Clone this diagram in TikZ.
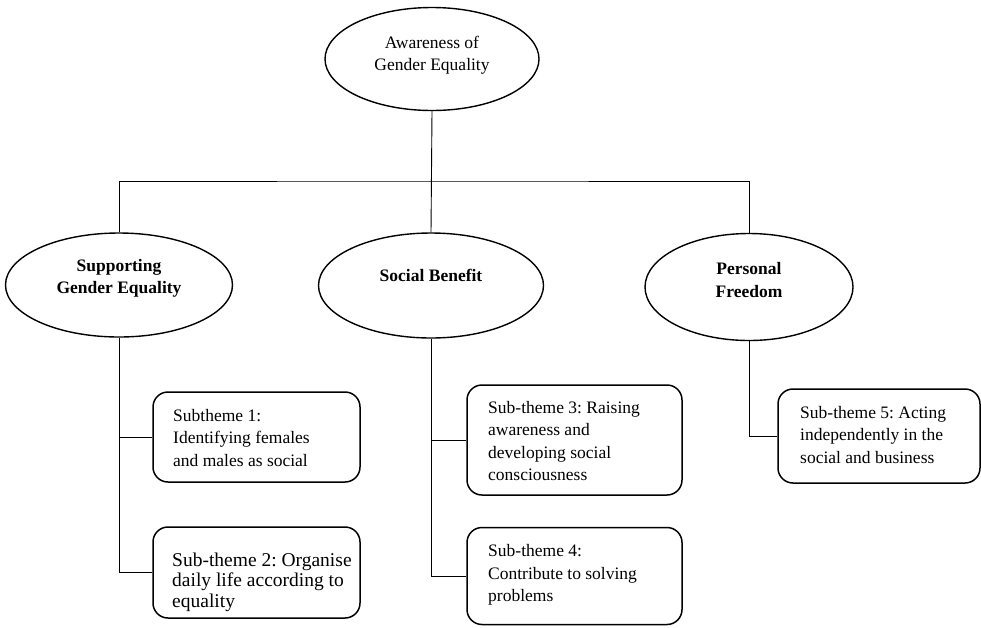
\documentclass[tikz,border=0pt]{standalone}
\usepackage{fontspec}
\setmainfont{Liberation Serif}
\usetikzlibrary{shapes.geometric}
\frenchspacing
\begin{document}
\begin{tikzpicture}[x=1pt,y=-1pt,
  ell/.style={draw, ellipse, line width=1.4pt, inner sep=0pt},
  etext/.style={align=center, inner sep=0pt, font=\fontsize{17.5pt}{22.5pt}\selectfont},
  btext/.style={align=left, inner sep=0pt, anchor=west, font=\fontsize{17.5pt}{22.5pt}\selectfont},
  stbox/.style={draw, rounded corners=15pt, line width=1.5pt, inner sep=0pt},
  conn/.style={draw, line width=0.9pt}
]
\useasboundingbox (0,0) rectangle (981,627);
% ellipses
\node[ell, minimum width=214pt, minimum height=103pt] (top) at (432,59) {};
\node[etext, yshift=4pt] (topt) at (top) {Awareness of\\Gender Equality};
\node[ell, minimum width=227pt, minimum height=104pt] (sup) at (119,285) {};
\node[etext, yshift=6.5pt, font=\bfseries\fontsize{17.5pt}{22.5pt}\selectfont] (supt) at (sup) {Supporting\\Gender Equality};
\node[ell, minimum width=225pt, minimum height=105pt] (ben) at (431,285.5) {};
\node[etext, yshift=10pt, font=\bfseries\fontsize{17.5pt}{22.5pt}\selectfont] (bent) at (ben) {Social Benefit};
\node[ell, minimum width=208pt, minimum height=107pt] (pf) at (749,287) {};
\node[etext, yshift=7pt, font=\bfseries\fontsize{17.5pt}{22.5pt}\selectfont] (pft) at (pf) {Personal\\Freedom};
% boxes
\node[stbox, minimum width=207pt, minimum height=90pt] (s1) at (256.5,437) {};
\node[btext] (s1t) at (173,438) {Subtheme 1:\\Identifying females\\and males as social};
\node[stbox, minimum width=207pt, minimum height=91pt] (s2) at (256.5,572.5) {};
\node[btext, font=\fontsize{19.5pt}{20.5pt}\selectfont] (s2t) at (172,582) {Sub-theme 2: Organise\\daily life according to\\equality};
\node[stbox, minimum width=215pt, minimum height=110pt] (s3) at (574.5,440) {};
\node[btext] (s3t) at (488,441) {Sub-theme 3: Raising\\awareness and\\developing social\\consciousness};
\node[stbox, minimum width=215pt, minimum height=97pt] (s4) at (574.5,576) {};
\node[btext] (s4t) at (488,575) {Sub-theme 4:\\Contribute to solving\\problems};
\node[stbox, minimum width=202pt, minimum height=94pt] (s5) at (879,436) {};
\node[btext] (s5t) at (800,435) {Sub-theme 5: Acting\\independently in the\\social and business};
% connectors
\coordinate (hub) at (431,181);
\draw[conn] (top.south) -- (ben.north);
\draw[conn] (sup.north) |- (hub) -| (pf.north);
\draw[conn] (sup.south) |- (s1.west);
\draw[conn] (sup.south) |- (s2.west);
\draw[conn] (ben.south) |- (s3.west);
\draw[conn] (ben.south) |- (s4.west);
\draw[conn] (pf.south) |- (s5.west);
\end{tikzpicture}
\end{document}
